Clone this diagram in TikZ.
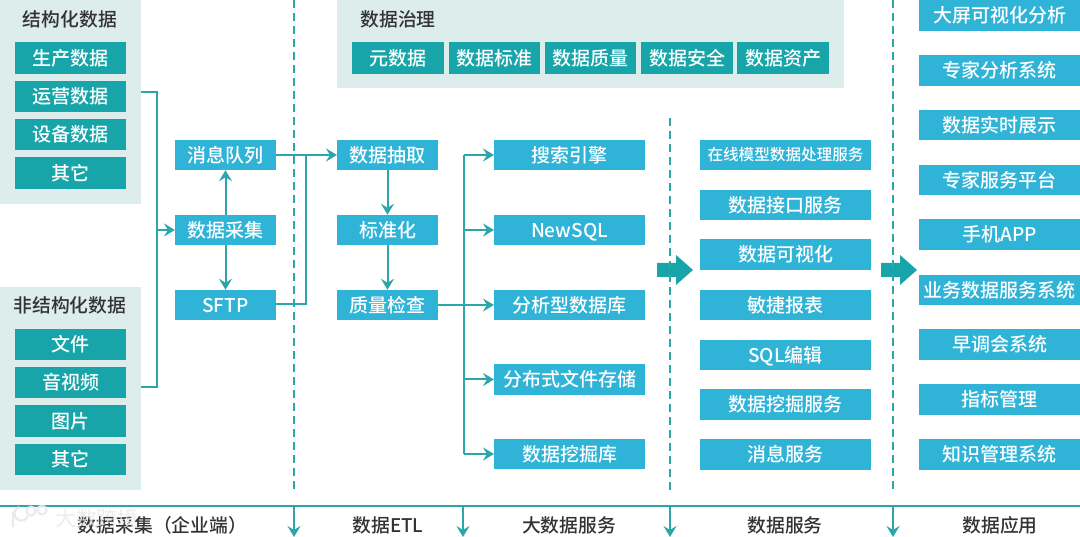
\documentclass[tikz,border=0pt]{standalone}
\usepackage{fontspec}
\setmainfont{Noto Sans CJK SC}
\newfontfamily\medf{Noto Sans CJK SC Medium}
\usetikzlibrary{arrows.meta,calc}
\definecolor{tealbox}{HTML}{18A5A9}
\definecolor{bluebox}{HTML}{2FB3D7}
\definecolor{panelbg}{HTML}{DCEDEB}
\definecolor{linec}{HTML}{2BA6AA}
\definecolor{darktext}{HTML}{333333}
\definecolor{wmark}{HTML}{E8E8E8}
\tikzset{
  box/.style={inner sep=0pt,outer sep=0pt,text=white,font=\medf\fontsize{19}{20}\selectfont,align=center,
     minimum width=#1,text height=16pt,text depth=1pt},
  tealnode/.style={box=111pt,fill=tealbox,minimum height=31.5pt},
  gov/.style={box=91.5pt,fill=tealbox,minimum height=32pt},
  bluenode/.style={box=#1,fill=bluebox,minimum height=30.5pt},
  panel/.style={fill=panelbg,inner sep=0pt,outer sep=0pt},
  ttl/.style={text=darktext,font=\medf\fontsize{18.8}{20}\selectfont,inner sep=0pt,text height=16pt,text depth=1pt},
  foot/.style={text=darktext,font=\medf\fontsize{18.8}{20}\selectfont,inner sep=0pt,text height=16pt,text depth=1pt},
  conn/.style={draw=linec,line width=2pt,line join=miter},
  arr/.style={conn,-{Stealth[length=11pt,width=13pt,inset=4pt]}},
  sepline/.style={draw=linec,line width=2pt,dash pattern=on 8pt off 5pt},
  bigarr/.style={fill=tealbox,draw=none},
}
\begin{document}
\begin{tikzpicture}[x=1pt,y=-1pt]
\useasboundingbox (0,0) rectangle (1080,537);
% panels
\node[panel,minimum width=141pt,minimum height=204pt] (p1) at (70.5,102) {};
\node[panel,minimum width=141pt,minimum height=203pt] (p2) at (70.5,388.5) {};
\node[panel,minimum width=507pt,minimum height=88pt] (p3) at (590.5,44) {};
\node[ttl] (t1) at (70,19) {结构化数据};
\node[ttl] (t2) at (70,305) {非结构化数据};
\node[ttl] (t3) at (398,19) {数据治理};
% left boxes
\node[tealnode] (a1) at (70.5,58) {生产数据};
\node[tealnode] (a2) at (70.5,96.5) {运营数据};
\node[tealnode] (a3) at (70.5,134.5) {设备数据};
\node[tealnode] (a4) at (70.5,173) {其它};
\node[tealnode] (b1) at (70.5,344.5) {文件};
\node[tealnode] (b2) at (70.5,382.5) {音视频};
\node[tealnode] (b3) at (70.5,421) {图片};
\node[tealnode] (b4) at (70.5,459.5) {其它};
% governance
\node[gov] (g1) at (398,58) {元数据};
\node[gov] (g2) at (494.5,58) {数据标准};
\node[gov] (g3) at (590.5,58) {数据质量};
\node[gov] (g4) at (687,58) {数据安全};
\node[gov] (g5) at (783,58) {数据资产};
% dashed separators
\coordinate (d1a) at (294,0); \coordinate (d1b) at (294,492);
\coordinate (d2a) at (670,118); \coordinate (d2b) at (670,492);
\coordinate (d3a) at (893,0); \coordinate (d3b) at (893,492);
% big arrows
\fill[bigarr] (657,263) -- (676,263) -- (676,255) -- (693,270) -- (676,285) -- (676,277) -- (657,277) -- cycle;
\fill[bigarr] (881,263) -- (900,263) -- (900,255) -- (917,270) -- (900,285) -- (900,277) -- (881,277) -- cycle;
\draw[sepline] (d1a) -- (d1b);
\draw[sepline] (d2a) -- (d2b);
\draw[sepline] (d3a) -- (d3b);
% column 2
\node[bluenode=101pt] (c1) at (225.5,155) {消息队列};
\node[bluenode=101pt] (c2) at (225.5,230) {数据采集};
\node[bluenode=101pt] (c3) at (225.5,305) {SFTP};
% column 3
\node[bluenode=101pt] (e1) at (387.5,155) {数据抽取};
\node[bluenode=101pt] (e2) at (387.5,230) {标准化};
\node[bluenode=101pt] (e3) at (387.5,305) {质量检查};
% column 4
\node[bluenode=151pt] (f1) at (569.5,155) {搜索引擎};
\node[bluenode=151pt] (f2) at (569.5,230) {NewSQL};
\node[bluenode=151pt] (f3) at (569.5,305) {分析型数据库};
\node[bluenode=151pt] (f4) at (569.5,379.5) {分布式文件存储};
\node[bluenode=151pt] (f5) at (569.5,454) {数据挖掘库};
% column 5
\node[bluenode=171pt] (h1) at (785.5,155) {\fontsize{15.6}{20}\selectfont\raisebox{1.5pt}{在线模型数据处理服务}};
\node[bluenode=171pt] (h2) at (785.5,205) {数据接口服务};
\node[bluenode=171pt] (h3) at (785.5,254.5) {数据可视化};
\node[bluenode=171pt] (h4) at (785.5,305) {敏捷报表};
\node[bluenode=171pt] (h5) at (785.5,355) {SQL编辑};
\node[bluenode=171pt] (h6) at (785.5,404.5) {数据挖掘服务};
\node[bluenode=171pt] (h7) at (785.5,454.5) {消息服务};
% column 6
\node[bluenode=161pt] (k1) at (999.5,15.5) {大屏可视化分析};
\node[bluenode=161pt] (k2) at (999.5,70.5) {专家分析系统};
\node[bluenode=161pt] (k3) at (999.5,125) {数据实时展示};
\node[bluenode=161pt] (k4) at (999.5,180) {专家服务平台};
\node[bluenode=161pt] (k5) at (999.5,234.5) {手机APP};
\node[bluenode=161pt] (k6) at (999.5,290) {业务数据服务系统};
\node[bluenode=161pt] (k7) at (999.5,344.5) {早调会系统};
\node[bluenode=161pt] (k8) at (999.5,399.5) {指标管理};
\node[bluenode=161pt] (k9) at (999.5,454.5) {知识管理系统};
% connectors: sources into collection
\coordinate (j1) at (157,92);
\coordinate (j2) at (157,387);
\coordinate (j3) at (157,230);
\coordinate (p1r) at (141,92);
\coordinate (p2r) at (141,387);
\draw[conn] (p1r) -- (j1) -- (j2) -- (p2r);
\draw[arr] (j3) -- (c2.west);
\draw[arr] (c2) -- (c1);
\draw[arr] (c2) -- (c3);
\coordinate (j4) at (306,155);
\coordinate (j5) at (306,304);
\draw[arr] (c1) -- (e1);
\draw[conn] (c3.east |- j5) -- (j5) -- (j4);
\draw[arr] (e1) -- (e2);
\draw[arr] (e2) -- (e3);
% ETL to storage
\coordinate (m1) at (464,155);
\coordinate (m5) at (464,454);
\draw[conn] (m5) -- (m1);
\draw[arr] (m1) -- (f1.west);
\draw[arr] (m1 |- f2) -- (f2.west);
\draw[arr] (e3) -- (f3);
\draw[arr] (m1 |- f4) -- (f4.west);
\draw[arr] (m5) -- (f5.west);
% footer
\coordinate (ba) at (0,506); \coordinate (bb) at (1080,506);
\draw[conn] (ba) -- (bb);
\coordinate (q1) at (294,506); \coordinate (r1) at (294,537);
\coordinate (q2) at (463,506); \coordinate (r2) at (463,537);
\coordinate (q3) at (670,506); \coordinate (r3) at (670,537);
\coordinate (q4) at (893,506); \coordinate (r4) at (893,537);
\draw[arr] (q1) -- (r1);
\draw[arr] (q2) -- (r2);
\draw[arr] (q3) -- (r3);
\draw[arr] (q4) -- (r4);
\node[foot] (l1) at (162.5,525) {数据采集（企业端）};
\node[foot] (l2) at (388,525) {数据ETL};
\node[foot] (l3) at (569,525) {大数据服务};
\node[foot] (l4) at (785,525) {数据服务};
\node[foot] (l5) at (1000,525) {数据应用};
% watermark
\node[text=wmark,opacity=.8,inner sep=0pt,font=\fontsize{21}{22}\selectfont] (wm) at (97,518) {大数跨境};
\draw[wmark,opacity=.9,line width=2.2pt] (13,512) -- (13,527) (28,516) arc[start angle=-20,end angle=-250,radius=7pt];
\draw[wmark,opacity=.9,line width=2pt] (31,511) circle[radius=4.5pt] (42,510) circle[radius=4.5pt];
\end{tikzpicture}
\end{document}
